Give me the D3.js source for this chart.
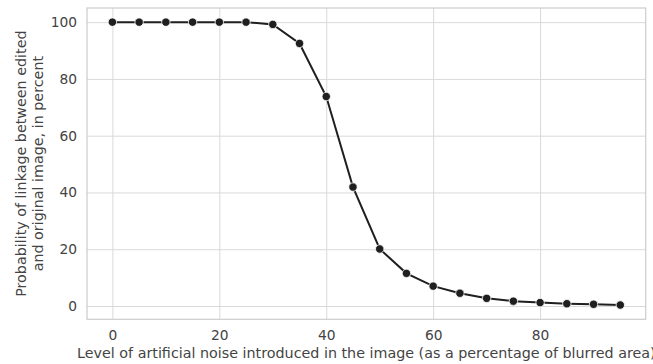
<!DOCTYPE html>
<html>
<head>
<meta charset="utf-8">
<script src="https://cdn.jsdelivr.net/npm/d3@7"></script>
<style>
  html, body { margin: 0; padding: 0; background: #fff; }
  svg { display: block; font-family: "DejaVu Sans", sans-serif; }
</style>
</head>
<body>
<div id="chart"></div>
<script>
const noiseLevels = [0, 5, 10, 15, 20, 25, 30, 35, 40, 45, 50, 55, 60, 65, 70, 75, 80, 85, 90, 95];
const linkageProb = [100, 100, 100, 100, 100, 100, 99.2, 92.5, 73.8, 41.9, 20.1, 11.5, 7.0, 4.5, 2.7, 1.7, 1.2, 0.8, 0.6, 0.35];
const xTicks = [0, 20, 40, 60, 80];
const yTicks = [0, 20, 40, 60, 80, 100];
const xLabel = 'Level of artificial noise introduced in the image (as a percentage of blurred area)';
const yLabelLines = ['Probability of linkage between edited', 'and original image, in percent'];

const W = 653, H = 364;
const margin = { top: 8, right: 7.3, bottom: 44.7, left: 87 };
const w = W - margin.left - margin.right;
const h = H - margin.top - margin.bottom;

const data = noiseLevels.map((x, i) => ({ x, y: linkageProb[i] }));

const svg = d3.select('#chart').append('svg').attr('width', W).attr('height', H);
const g = svg.append('g').attr('transform', `translate(${margin.left},${margin.top})`);

const x = d3.scaleLinear().domain([-4.75, 99.75]).range([0, w]);
const y = d3.scaleLinear().domain([-4.685, 104.985]).range([h, 0]);

// grid
g.append('g').attr('class', 'grid')
  .call(d3.axisLeft(y).tickValues(yTicks).tickSize(-w).tickFormat(() => ''))
  .call(s => s.select('.domain').remove())
  .selectAll('line').attr('stroke', '#d9d9d9').attr('stroke-width', 1);
g.append('g').attr('class', 'grid').attr('transform', `translate(0,${h})`)
  .call(d3.axisBottom(x).tickValues(xTicks).tickSize(-h).tickFormat(() => ''))
  .call(s => s.select('.domain').remove())
  .selectAll('line').attr('stroke', '#d9d9d9').attr('stroke-width', 1);

// frame
g.append('rect').attr('width', w).attr('height', h)
  .attr('fill', 'none').attr('stroke', '#cccccc').attr('stroke-width', 1.2);

// tick labels
g.append('g').attr('transform', `translate(0,${h})`)
  .call(d3.axisBottom(x).tickValues(xTicks).tickSize(0).tickPadding(11).tickFormat(d3.format('d')))
  .call(s => s.select('.domain').remove())
  .selectAll('text').attr('font-size', '13.8px').attr('fill', '#444').attr('font-family', 'DejaVu Sans');
g.append('g')
  .call(d3.axisLeft(y).tickValues(yTicks).tickSize(0).tickPadding(10).tickFormat(d3.format('d')))
  .call(s => s.select('.domain').remove())
  .selectAll('text').attr('font-size', '13.8px').attr('fill', '#444').attr('font-family', 'DejaVu Sans');

// axis labels
g.append('text').attr('x', w / 2).attr('y', h + 38.3)
  .attr('text-anchor', 'middle').attr('font-size', '14.3px').attr('fill', '#444')
  .text(xLabel);
const yl = g.append('text').attr('transform', `translate(${-61},${h / 2}) rotate(-90)`)
  .attr('text-anchor', 'middle').attr('font-size', '14.3px').attr('fill', '#444');
yLabelLines.forEach((t, i) => yl.append('tspan').attr('x', 0).attr('dy', i ? 16.5 : 0).text(t));

// line + markers
g.append('path').datum(data)
  .attr('fill', 'none').attr('stroke', '#1f1f1f').attr('stroke-width', 2)
  .attr('d', d3.line().x(d => x(d.x)).y(d => y(d.y)));
g.selectAll('circle').data(data).join('circle')
  .attr('cx', d => x(d.x)).attr('cy', d => y(d.y)).attr('r', 4.2)
  .attr('fill', '#1f1f1f').attr('stroke', '#fff').attr('stroke-width', 0.8);
</script>
</body>
</html>
